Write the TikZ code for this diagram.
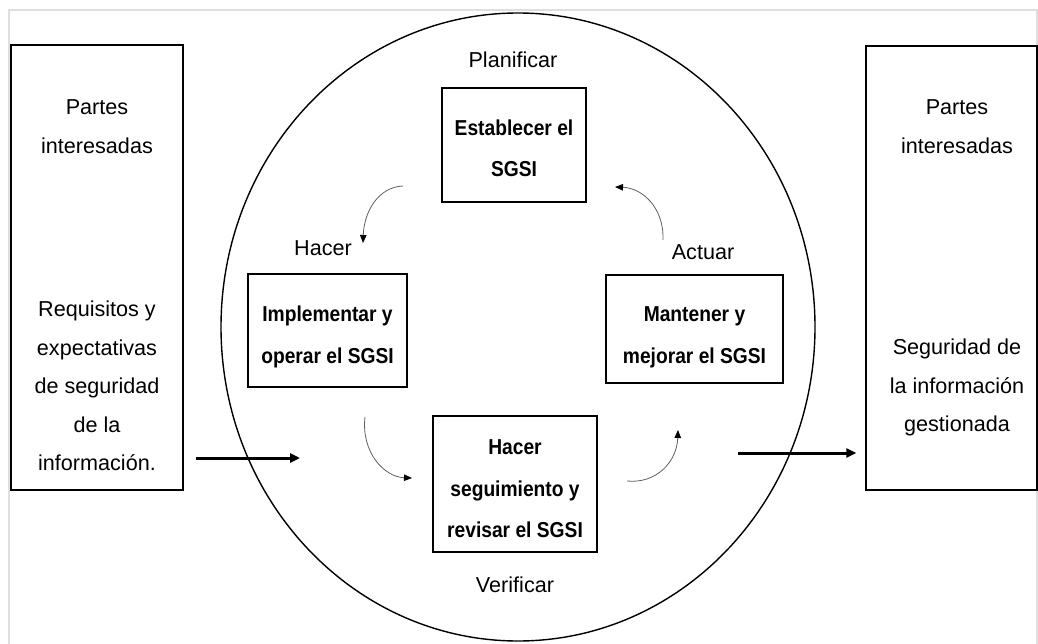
\documentclass[tikz,border=0pt]{standalone}
\usepackage{fontspec}
\setmainfont{Liberation Sans}
\newfontfamily\estrecha{Liberation Sans}[FakeStretch=0.89]
\usetikzlibrary{arrows.meta}
\newcommand{\normal}{\fontsize{21.6}{38.5}\selectfont}
\newcommand{\negrita}{\estrecha\bfseries\fontsize{21.6}{41.5}\selectfont}

\begin{document}
\begin{tikzpicture}[x=1pt, y=-1pt,
		caja/.style={draw, line width=1.4pt, inner sep=0pt},
		texto/.style={align=center, font=\normal},
		paso/.style={align=center, font=\negrita},
		flecha/.style={line width=3pt, -{Triangle[length=10pt, width=9pt]}},
		giro/.style={draw=gray!75!black, line width=0.8pt, -{Triangle[length=8pt, width=6.5pt, black]}}]
		\useasboundingbox (0, 0) rectangle (1038, 644);
		\draw[gray!25, line width=1.2pt](9, 660)--(9, 10)--(1037, 10)--(1037, 660);
		% lados
		\node[caja, minimum width=172, minimum height=445] (izq) at (97, 267.5) {};
		\node[caja, minimum width=171, minimum height=444] (der) at (951.5, 268) {};
		\node[texto] (pi1) at (97, 126.5) {Partes\\interesadas};
		\node[texto] (req) at (97, 386) {Requisitos y\\expectativas\\de seguridad\\de la\\informaci\'on.};
		\node[texto] (pi2) at (957, 126.5) {Partes\\interesadas};
		\node[texto] (seg) at (957, 387.5) {Seguridad de\\la informaci\'on\\gestionada};
		% ciclo
		\draw[line width=1.4pt](518, 327) ellipse [x radius=297, y radius=314];
		\node[caja, minimum width=144, minimum height=114] (est) at (514, 145) {};
		\node[paso] at (514, 148.5) {Establecer el\\SGSI};
		\node[caja, minimum width=159, minimum height=113] (imp) at (327.5, 330.5) {};
		\node[paso] at (327.5, 337) {Implementar y\\operar el SGSI};
		\node[caja, minimum width=177, minimum height=108] (man) at (694.5, 329) {};
		\node[paso] at (694.5, 337.5) {Mantener y\\mejorar el SGSI};
		\node[caja, minimum width=164, minimum height=136] (rev) at (515, 484) {};
		\node[paso] at (515, 489) {Hacer\\seguimiento y\\revisar el SGSI};
		\node[texto] (plan) at (513, 60) {Planificar};
		\node[texto] (hac) at (323, 248) {Hacer};
		\node[texto] (act) at (703, 252) {Actuar};
		\node[texto] (ver) at (515, 585) {Verificar};
		% flechas curvas
		\coordinate (c1) at (403, 186);
		\coordinate (c2) at (363, 243);
		\coordinate (c3) at (365, 417);
		\coordinate (c4) at (412, 478);
		\coordinate (c5) at (627, 481);
		\coordinate (c6) at (678, 430);
		\coordinate (c7) at (663, 240);
		\coordinate (c8) at (615, 187);
		\draw[giro](c1) .. controls (378, 187) and (364, 212) .. (c2);
		\draw[giro](c3) .. controls (361, 452) and (384, 477) .. (c4);
		\draw[giro](c5) .. controls (656, 484) and (677, 462) .. (c6);
		\draw[giro](c7) .. controls (664, 207) and (642, 188) .. (c8);
		% entrada y salida
		\coordinate (e1) at (300, 458);
		\coordinate (s1) at (738, 453);
		\draw[flecha]([xshift=12pt]izq.east |- e1)--(e1);
		\draw[flecha](s1)--([xshift=-9pt]der.west |- s1);
	\end{tikzpicture}
\end{document}
